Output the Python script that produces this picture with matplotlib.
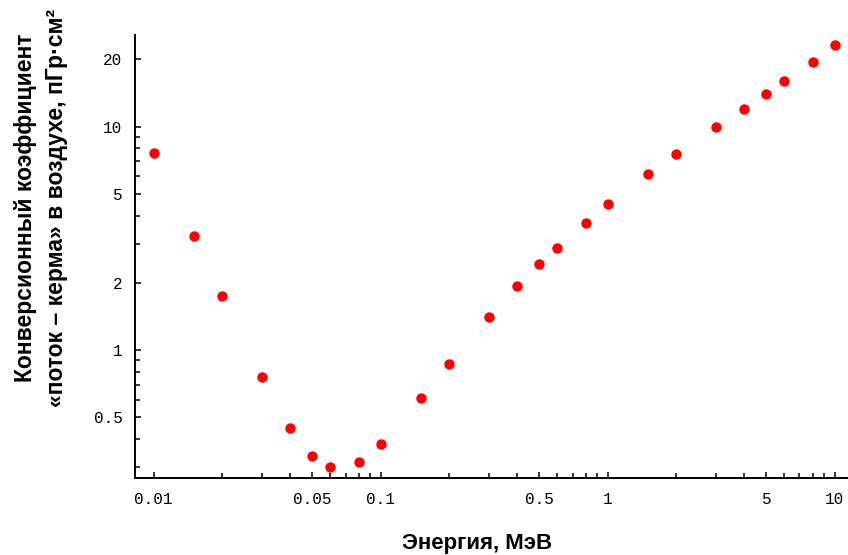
import matplotlib.pyplot as plt
from matplotlib.ticker import FixedLocator, FixedFormatter, NullFormatter

# photon energy, MeV
energy = [0.01, 0.015, 0.02, 0.03, 0.04, 0.05, 0.06, 0.08, 0.1, 0.15, 0.2,
          0.3, 0.4, 0.5, 0.6, 0.8, 1, 1.5, 2, 3, 4, 5, 6, 8, 10]
# fluence-to-air-kerma conversion coefficient, pGy cm^2
kerma = [7.6, 3.25, 1.75, 0.76, 0.45, 0.335, 0.299, 0.317, 0.382, 0.609, 0.868,
         1.41, 1.94, 2.42, 2.86, 3.72, 4.5, 6.14, 7.55, 9.97, 12.0, 14.0, 16.0, 19.5, 23.2]

x_labels = ["0.01", "0.05", "0.1", "0.5", "1", "5", "10"]
y_labels = ["0.5", "1", "2", "5", "10", "20"]

x_minor = [0.02, 0.03, 0.04, 0.06, 0.07, 0.08, 0.09, 0.2, 0.3, 0.4,
           0.6, 0.7, 0.8, 0.9, 2, 3, 4, 6, 7, 8, 9]
y_minor = [0.3, 0.4, 0.6, 0.7, 0.8, 0.9, 3, 4, 6, 7, 8, 9]

fig = plt.figure(figsize=(8.48, 5.55), dpi=100)
ax = fig.add_axes([135 / 848, 77 / 555, 713 / 848, 443 / 555])

ax.plot(energy, kerma, "o", color="red", markersize=7.5, markeredgewidth=0)

ax.set_xscale("log")
ax.set_yscale("log")
ax.set_xlim(0.00827, 11.45)
ax.set_ylim(0.268, 25.7)

ax.xaxis.set_major_locator(FixedLocator([float(v) for v in x_labels]))
ax.xaxis.set_major_formatter(FixedFormatter(x_labels))
ax.xaxis.set_minor_locator(FixedLocator(x_minor))
ax.xaxis.set_minor_formatter(NullFormatter())
ax.yaxis.set_major_locator(FixedLocator([float(v) for v in y_labels]))
ax.yaxis.set_major_formatter(FixedFormatter(y_labels))
ax.yaxis.set_minor_locator(FixedLocator(y_minor))
ax.yaxis.set_minor_formatter(NullFormatter())

for side in ["top", "right"]:
    ax.spines[side].set_visible(False)
for side in ["left", "bottom"]:
    ax.spines[side].set_linewidth(1.4)

ax.tick_params(which="major", direction="in", length=4.5, width=1.1)
ax.tick_params(which="minor", direction="in", length=3.5, width=1.1)
ax.tick_params(axis="x", which="major", pad=10)
ax.tick_params(axis="y", which="major", pad=9)
for lbl in ax.get_xticklabels() + ax.get_yticklabels():
    lbl.set_family("Liberation Mono")
    lbl.set_fontsize(11.5)
    lbl.set_color("black")

fig.text(477 / 848, 1 - 543 / 555, "Энергия, МэВ", ha="center", va="center",
         family="Liberation Sans", fontweight="bold", fontsize=16)
fig.text(41 / 848, 1 - 208 / 555,
         "Конверсионный коэффициент\n«поток – керма» в воздухе, пГр·см²",
         rotation=90, ha="center", va="center", multialignment="center",
         family="Liberation Sans", fontweight="bold", fontsize=16.5,
         linespacing=1.45)

fig.savefig("out.png", dpi=100)
